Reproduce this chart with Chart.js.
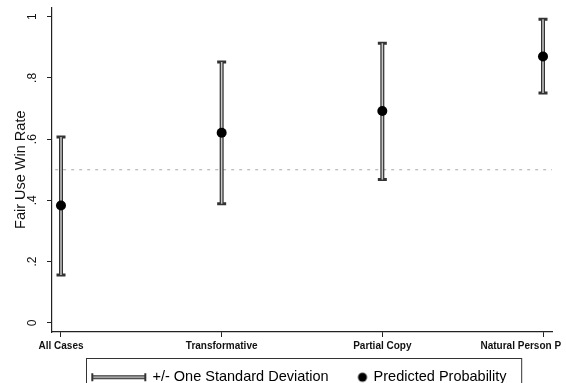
<!DOCTYPE html>
<html>
<head>
<meta charset="utf-8">
<script src="https://cdn.jsdelivr.net/npm/chart.js@4.4.1/dist/chart.umd.min.js"></script>
<style>
  html, body { margin: 0; padding: 0; background: #fff; }
</style>
</head>
<body>
<canvas id="my_chart" width="566" height="383"></canvas>
<script>
// values
var categories = ['All Cases', 'Transformative', 'Partial Copy', 'Natural Person P']
var predicted = [0.383, 0.621, 0.692, 0.870]
var lower_sd = [0.156, 0.389, 0.468, 0.751]
var upper_sd = [0.607, 0.852, 0.913, 0.992]
var ref_value = 0.5
var y_ticks = [0, 0.2, 0.4, 0.6, 0.8, 1]
var y_tick_labels = ['0', '.2', '.4', '.6', '.8', '1']
var x_range = [-0.056, 3.056]
var y_range = [-0.03, 1.03]

var font_family = "'Liberation Sans', Arial, Helvetica, sans-serif"
Chart.defaults.font.family = font_family

// legend icons (error bar and dot), offset inside the canvas so they sit where Stata puts them
function make_sd_icon() {
  var c = document.createElement('canvas')
  c.width = 74; c.height = 12
  var g = c.getContext('2d')
  var a = 14, b = 67
  g.strokeStyle = '#333'; g.lineWidth = 4
  g.beginPath(); g.moveTo(a, 6); g.lineTo(b, 6); g.stroke()
  g.strokeStyle = '#c8c8c8'; g.lineWidth = 1.5
  g.beginPath(); g.moveTo(a + 1, 6); g.lineTo(b - 1, 6); g.stroke()
  g.strokeStyle = '#333'; g.lineWidth = 2
  g.beginPath(); g.moveTo(a, 2); g.lineTo(a, 10); g.moveTo(b, 2); g.lineTo(b, 10); g.stroke()
  return c
}
function make_dot_icon() {
  var c = document.createElement('canvas')
  c.width = 40; c.height = 12
  var g = c.getContext('2d')
  g.fillStyle = '#000'
  g.beginPath(); g.arc(34, 6, 4.5, 0, Math.PI * 2); g.fill()
  return c
}
var sd_icon = make_sd_icon()
var dot_icon = make_dot_icon()

var legend_box = {
  id: 'legend_box',
  afterDraw: function(chart) {
    var hb = chart.legend.legendHitBoxes
    if (!hb || hb.length < 2) return
    var ctx = chart.ctx
    var mid = hb[0].top + hb[0].height / 2
    var left = hb[0].left - 11
    var right = hb[1].left + hb[1].width + 15
    ctx.save()
    ctx.strokeStyle = '#333'
    ctx.lineWidth = 1
    ctx.strokeRect(Math.round(left) + 0.5, Math.round(mid - 19) + 0.5, right - left, 40)
    ctx.restore()
  }
}

var datasets = []
datasets.push({
  label: 'Predicted Probability',
  data: categories.map(function(c, i) { return {x: i, y: predicted[i]} }),
  showLine: false,
  pointRadius: 5,
  pointBackgroundColor: '#000',
  pointBorderColor: '#000',
  pointBorderWidth: 0,
  order: 0
})
categories.forEach(function(c, i) {
  datasets.push({
    label: 'sd inner ' + c,
    data: [{x: i, y: lower_sd[i]}, {x: i, y: upper_sd[i]}],
    borderColor: '#c8c8c8',
    borderWidth: 1.5,
    pointRadius: 0,
    order: 1
  })
  datasets.push({
    label: 'sd ' + c,
    data: [{x: i, y: lower_sd[i]}, {x: i, y: upper_sd[i]}],
    borderColor: '#333',
    borderWidth: 4,
    pointStyle: 'line',
    pointRadius: 4.5,
    pointBorderWidth: 3,
    pointBorderColor: '#333',
    order: 2
  })
})
datasets.push({
  label: 'reference',
  data: [{x: x_range[0] + 0.02, y: ref_value}, {x: x_range[1], y: ref_value}],
  borderColor: '#aaa',
  borderWidth: 1,
  borderDash: [3, 5],
  pointRadius: 0,
  order: 3
})

ctx = document.getElementById('my_chart')
my_chart = new Chart(ctx, {
  type: 'line',
  data: { datasets: datasets },
  plugins: [legend_box],
  options: {
    responsive: false,
    animation: false,
    layout: { padding: { top: 5, right: 14, left: 0, bottom: 0 } },
    plugins: {
      tooltip: { enabled: false },
      legend: {
        position: 'bottom',
        fullSize: false,
        maxHeight: 15,
        labels: {
          usePointStyle: true,
          pointStyleWidth: 35.75,
          boxHeight: 14.5,
          padding: 2,
          color: '#111',
          font: { size: 14.5 },
          generateLabels: function() {
            // leading spaces nudge the centred legend row to the right, as in the original
            return [
              { text: '   +/- One Standard Deviation', pointStyle: sd_icon, fillStyle: '#333', strokeStyle: '#333', lineWidth: 0, hidden: false, datasetIndex: 1 },
              { text: 'Predicted Probability', pointStyle: dot_icon, fillStyle: '#000', strokeStyle: '#000', lineWidth: 0, hidden: false, datasetIndex: 0 }
            ]
          }
        }
      }
    },
    scales: {
      x: {
        type: 'linear',
        min: x_range[0],
        max: x_range[1],
        afterBuildTicks: function(s) { s.ticks = categories.map(function(c, i) { return {value: i} }) },
        afterFit: function(s) { s.height = 36; s.paddingLeft = 0; s.paddingRight = 0 },
        ticks: {
          autoSkip: false,
          maxRotation: 0,
          minRotation: 0,
          padding: 3,
          color: '#111',
          font: { size: 10, weight: 'bold' },
          callback: function(v) {
            var i = Math.round(v)
            // last label is cut by the figure edge, pad so it starts where it does in the original
            return i === categories.length - 1 ? categories[i] + '                ' : categories[i]
          }
        },
        grid: { drawOnChartArea: false, tickLength: 5, color: '#222' },
        border: { color: '#222', width: 1.2 }
      },
      y: {
        min: y_range[0],
        max: y_range[1],
        afterBuildTicks: function(s) { s.ticks = y_ticks.map(function(v) { return {value: v} }) },
        afterFit: function(s) { s.width = 52; s.paddingTop = 0; s.paddingBottom = 0 },
        ticks: {
          minRotation: 90,
          maxRotation: 90,
          crossAlign: 'center',
          padding: 9,
          color: '#111',
          font: { size: 12 },
          callback: function(v) { return y_tick_labels[y_ticks.indexOf(v)] }
        },
        title: {
          display: true,
          text: 'Fair Use Win Rate',
          color: '#111',
          font: { size: 14.5 },
          padding: { top: 12, bottom: 0 }
        },
        grid: { drawOnChartArea: false, tickLength: 5, color: '#222' },
        border: { color: '#222', width: 1.2 }
      }
    }
  }
})
</script>
</body>
</html>
